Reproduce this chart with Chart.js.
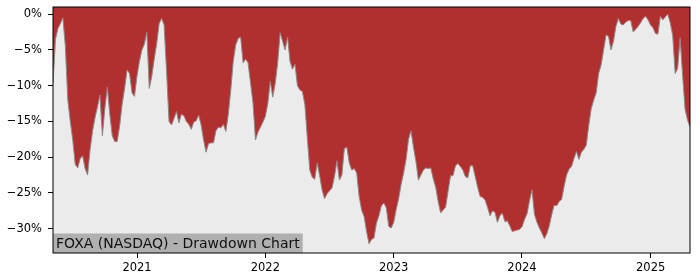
<!DOCTYPE html>
<html>
<head>
<meta charset="utf-8">
<script src="https://cdn.jsdelivr.net/npm/chart.js@4.4.0/dist/chart.umd.min.js"></script>
<style>
  html, body { margin: 0; padding: 0; background: #fff; }
  #wrap { width: 700px; height: 280px; }
</style>
</head>
<body>
<div id="wrap"><canvas id="ddChart" width="700" height="280"></canvas></div>
<script>
const chartLabel = 'FOXA (NASDAQ) - Drawdown Chart';
const startDate = '2020-05-07';
const endDate = '2025-04-23';
const yearTicks = [2021, 2022, 2023, 2024, 2025];
const pctTicks = [0, -5, -10, -15, -20, -25, -30];

// drawdown in %, roughly one reading per week
const drawdown = [
  -9.7, -3.5, -2, -1.3, -0.5, -4.5, -12, -15, -17.6, -21,
  -21.5, -20.2, -19.8, -21.6, -22.5, -19, -16.4, -14.5, -13, -11.3,
  -17, -13.2, -10.2, -14, -17, -17.8, -17.8, -15.6, -12.6, -10.4,
  -7.8, -8.3, -11, -11.5, -8.7, -6.6, -5, -4.2, -2.5, -10.4,
  -8.7, -6.3, -4.1, -1.3, -0.6, -1.5, -8, -15, -15.5, -14.6,
  -13.6, -15.2, -14, -14.2, -15, -15.4, -16.1, -15.1, -14.9, -14.1,
  -15.5, -17.6, -19.3, -18.1, -18, -18, -16.3, -15.8, -15.9, -15.4,
  -16.4, -14, -10.6, -6.6, -4.3, -3.4, -3.2, -6.8, -6.3, -6.8,
  -9.6, -12.4, -17.6, -16.5, -15.8, -15.1, -14.3, -12.5, -9.4, -11.6,
  -9.7, -6.8, -2.6, -3.8, -5, -3.2, -6.6, -7.7, -7, -10,
  -10.6, -10.8, -12.6, -17.3, -21.8, -22.8, -23.1, -20.8, -22.6, -24.6,
  -25.8, -25.1, -24.7, -24.3, -22.7, -20.5, -23.2, -22.5, -18.8, -18.6,
  -20.8, -21.8, -21.6, -22.2, -25.5, -27.4, -28.3, -30.4, -32.1, -31.5,
  -31.3, -29.2, -28.2, -26.8, -26.4, -27.1, -29.7, -29.9, -29.1, -27.3,
  -25.8, -23.8, -22.2, -20.3, -17.5, -16.3, -18.6, -20.6, -23.2, -22.5,
  -21.8, -21.5, -21.6, -21.5, -23, -24.2, -26.2, -27.8, -27.4, -27,
  -24.8, -22.6, -22.6, -21.2, -20.9, -21.3, -21.8, -22.7, -22.9, -21.2,
  -21.2, -22.7, -24.2, -25.5, -25.6, -26, -27, -28.2, -27.5, -27.7,
  -29.1, -28.2, -27.8, -29, -28.9, -29.6, -30.4, -30.3, -30.2, -30.1,
  -29.7, -28.7, -27.9, -26.1, -24.6, -28, -29.1, -29.9, -30.6, -31.4,
  -30.7, -29.6, -28, -26.7, -26.8, -26.2, -25.9, -24.1, -22.5, -21.7,
  -21.3, -20.2, -19.2, -20.3, -19.3, -18.9, -18.3, -15.5, -13.2, -12,
  -11, -8.3, -7.1, -5, -2.9, -3.1, -5, -3.8, -1.7, -0.6,
  -1.4, -1.5, -1.1, -0.9, -0.9, -2.5, -2.1, -1.7, -1.2, -0.6,
  -0.3, -0.8, -1.5, -1.9, -2.7, -2.8, -0.3, -0.8, -0.4, 0,
  -1.2, -3, -8.3, -7.6, -3.3, -8.5, -13.3, -14.8, -15.8
];

const t0 = Date.parse(startDate);
const t1 = Date.parse(endDate);
const points = drawdown.map((v, i) => ({
  x: t0 + (t1 - t0) * i / (drawdown.length - 1),
  y: v
}));

const tickFont = { family: 'DejaVu Sans', size: 11.5 };

// light grey plot face, label box and black frame
const plotDecor = {
  id: 'plotDecor',
  beforeDatasetsDraw(chart) {
    const { ctx, chartArea: a } = chart;
    ctx.save();
    ctx.fillStyle = '#ebebeb';
    ctx.fillRect(a.left, a.top, a.right - a.left, a.bottom - a.top);
    ctx.restore();
  },
  afterDatasetsDraw(chart) {
    const { ctx, chartArea: a } = chart;
    ctx.save();
    ctx.font = '14px "DejaVu Sans"';
    const w = ctx.measureText(chartLabel).width;
    ctx.fillStyle = '#b0b0b0';
    ctx.fillRect(a.left, a.bottom - 19.5, w + 6, 19.5);
    ctx.fillStyle = '#111';
    ctx.textBaseline = 'alphabetic';
    ctx.fillText(chartLabel, a.left + 3, a.bottom - 5);
    ctx.strokeStyle = '#000';
    ctx.lineWidth = 1;
    ctx.strokeRect(a.left, a.top, a.right - a.left, a.bottom - a.top);
    ctx.restore();
  }
};

const ctx = document.getElementById('ddChart').getContext('2d');
new Chart(ctx, {
  type: 'line',
  data: {
    datasets: [{
      data: points,
      borderColor: '#8a8a8a',
      borderWidth: 1,
      backgroundColor: '#b03030',
      fill: 'end',
      pointRadius: 0,
      tension: 0
    }]
  },
  options: {
    responsive: false,
    animation: false,
    layout: { padding: { top: 7, right: 10, left: 0, bottom: 0 } },
    plugins: { legend: { display: false }, tooltip: { enabled: false } },
    scales: {
      x: {
        type: 'linear',
        min: t0,
        max: t1,
        afterBuildTicks: s => { s.ticks = yearTicks.map(y => ({ value: Date.UTC(y, 0, 1) })); },
        afterFit: s => { s.height = 27; s.paddingLeft = 0; s.paddingRight = 0; },
        ticks: {
          font: tickFont, color: '#000', padding: 3, maxRotation: 0,
          callback: v => new Date(v).getUTCFullYear()
        },
        grid: { display: true, drawOnChartArea: false, tickLength: 5, color: '#000' },
        border: { display: false }
      },
      y: {
        min: -33.4,
        max: 1.0,
        afterBuildTicks: s => { s.ticks = pctTicks.map(v => ({ value: v })); },
        afterFit: s => { s.width = 53; s.paddingTop = 0; s.paddingBottom = 0; },
        ticks: {
          font: tickFont, color: '#000', padding: 6,
          callback: v => (v < 0 ? '\u2212' + Math.abs(v) : v) + '%'
        },
        grid: { display: true, drawOnChartArea: false, tickLength: 5, color: '#000' },
        border: { display: false }
      }
    }
  },
  plugins: [plotDecor]
});
</script>
</body>
</html>
